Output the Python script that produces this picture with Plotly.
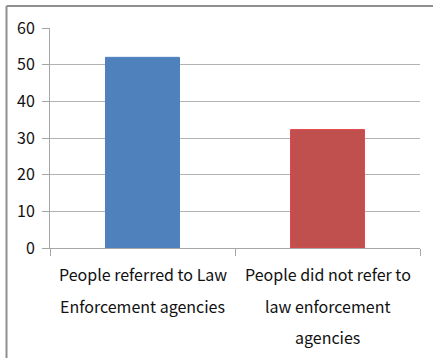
import plotly.graph_objects as go

categories = ["Referred", "NotReferred"]
label_lines = [
    ["People referred to Law", "Enforcement agencies"],
    ["People did not refer to", "law enforcement", "agencies"],
]
values = [52, 32.3]
colors = ["#4F81BD", "#C0504D"]
edge_colors = ["#4F81BD", "#E5484C"]
y_ticks = [0, 10, 20, 30, 40, 50, 60]

W, H = 433, 358
L, R, T, B = 50, 13, 28, 110
pw, ph = W - L - R, H - T - B

fig = go.Figure(go.Bar(
    x=categories, y=values,
    marker=dict(color=colors, line=dict(color=edge_colors, width=1)),
    width=0.4,
))

font_family = "Noto Sans CJK KR, Noto Sans, sans-serif"

annotations = []
for cat, lines in zip(categories, label_lines):
    for i, line in enumerate(lines):
        annotations.append(dict(
            x=cat, xref="x", y=0, yref="paper", text=line, showarrow=False,
            yanchor="middle", yshift=-(26 + 31.5 * i),
            font=dict(family=font_family, size=16, color="#111111"),
        ))

def px_x(p):
    return (p - L) / pw

def px_y(p):
    return (H - B - p) / ph

shapes = [
    dict(type="line", xref="paper", yref="paper", x0=px_x(6.5), x1=px_x(450),
         y0=px_y(6), y1=px_y(6), line=dict(color="#8f8f8f", width=2)),
    dict(type="line", xref="paper", yref="paper", x0=px_x(6.5), x1=px_x(6.5),
         y0=px_y(6), y1=px_y(380), line=dict(color="#8f8f8f", width=2)),
]

fig.update_layout(
    width=W, height=H,
    margin=dict(l=L, r=R, t=T, b=B),
    paper_bgcolor="white", plot_bgcolor="white",
    showlegend=False,
    font=dict(family=font_family, color="#111111"),
    annotations=annotations,
    shapes=shapes,
    xaxis=dict(
        showticklabels=False, tickson="boundaries", ticks="outside",
        ticklen=7, tickcolor="#a6a6a6", showline=True, linecolor="#a6a6a6",
        linewidth=1, showgrid=False, range=[-0.5, 1.5], fixedrange=True,
    ),
    yaxis=dict(
        range=[0, 60], tickvals=y_ticks, ticks="outside", ticklen=7,
        tickcolor="#a6a6a6", showline=True, linecolor="#a6a6a6", linewidth=1,
        showgrid=True, gridcolor="#b3b3b3", gridwidth=1, zeroline=False,
        tickfont=dict(family=font_family, size=16, color="#111111"),
        ticklabelstandoff=4,
    ),
)

fig.write_html(
    "out.html",
    config={"displayModeBar": False},
    post_script="document.body.style.margin='0';document.body.style.overflow='hidden';",
)
